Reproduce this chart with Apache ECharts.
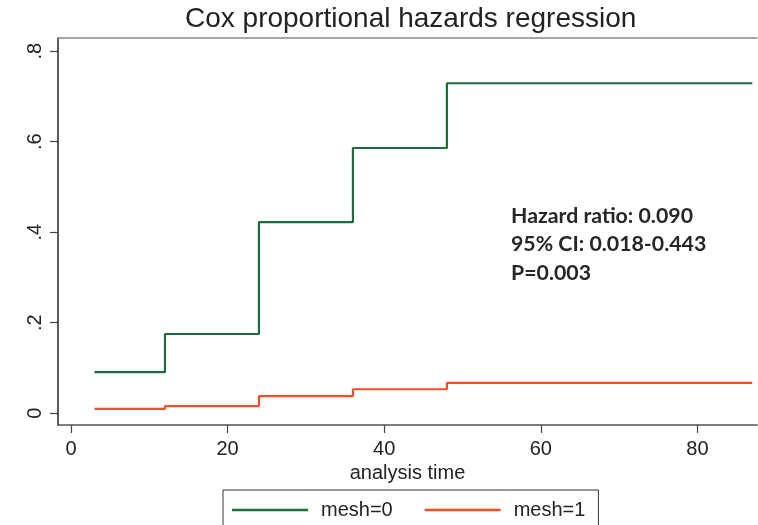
<!DOCTYPE html>
<html><head><meta charset="utf-8">
<script src="https://cdn.jsdelivr.net/npm/echarts@6/dist/echarts.min.js"></script>
<style>html,body{margin:0;padding:0;background:#fff}#c{width:758px;height:525px}</style>
</head><body><div id="c"></div>
<script>
const times = [3, 12, 24, 36, 48, 87];
const mesh0 = [0.091, 0.175, 0.422, 0.586, 0.729, 0.729];
const mesh1 = [0.0095, 0.0155, 0.038, 0.053, 0.067, 0.067];
const xTicks = [0, 20, 40, 60, 80];
const yTicks = [0, 0.2, 0.4, 0.6, 0.8];
const seriesNames = ['mesh=0', 'mesh=1'];
const titleText = 'Cox proportional hazards regression';
const xName = 'analysis time';
const noteLines = ['Hazard ratio: 0.090', '95% CI: 0.018-0.443', 'P=0.003'];

const chart = echarts.init(document.getElementById('c'), null, {renderer: 'canvas'});
const F = 'Liberation Sans, Arial, Helvetica, sans-serif';
const fmtY = v => v === 0 ? '0' : String(Math.round(v * 10) / 10).replace(/^0/, '');
chart.setOption({
  animation: false,
  backgroundColor: '#fff',
  title: {text: titleText, left: 185, top: 5, padding: 0,
    textStyle: {fontFamily: F, fontSize: 28, fontWeight: 'normal', color: '#222'}},
  grid: {left: 58, top: 38, right: 1, bottom: 100, containLabel: false},
  xAxis: [{
    type: 'value', min: -1.66, max: 87.6, position: 'bottom',
    name: xName, nameLocation: 'middle', nameGap: 32,
    nameTextStyle: {fontFamily: F, fontSize: 20, color: '#222'},
    axisLine: {onZero: false, lineStyle: {color: '#555', width: 1.5}},
    axisTick: {customValues: xTicks, length: 8, lineStyle: {color: '#444', width: 1.2}},
    axisLabel: {customValues: xTicks, margin: 14, fontFamily: F, fontSize: 20, color: '#222'},
    splitLine: {show: false}
  }, {
    type: 'value', min: -1.66, max: 87.6, position: 'top',
    axisLine: {show: true, onZero: false, lineStyle: {color: '#888', width: 1.5}},
    axisTick: {show: false}, axisLabel: {show: false}, splitLine: {show: false}
  }],
  yAxis: {
    type: 'value', min: -0.026, max: 0.829,
    axisLine: {show: true, onZero: false, lineStyle: {color: '#222', width: 1.5}},
    axisTick: {show: true, customValues: yTicks, length: 8, lineStyle: {color: '#444', width: 1.2}},
    axisLabel: {customValues: yTicks, rotate: 90, margin: 13, formatter: fmtY,
      fontFamily: F, fontSize: 20, color: '#222'},
    splitLine: {show: false}
  },
  legend: {
    data: seriesNames, left: 223, top: 490, orient: 'horizontal',
    padding: [10, 13, 20, 9], borderColor: '#333', borderWidth: 1,
    icon: 'rect', itemWidth: 76, itemHeight: 2.5, itemGap: 32,
    textStyle: {fontFamily: F, fontSize: 20, color: '#222', padding: [0, 0, 0, 8]}
  },
  series: [
    {name: seriesNames[0], type: 'line', step: 'end', showSymbol: false, symbol: 'none',
      data: times.map((t, i) => [t, mesh0[i]]),
      itemStyle: {color: '#1c6b3a'}, lineStyle: {color: '#1c6b3a', width: 2.2}},
    {name: seriesNames[1], type: 'line', step: 'end', showSymbol: false, symbol: 'none',
      data: times.map((t, i) => [t, mesh1[i]]),
      itemStyle: {color: '#f24f26'}, lineStyle: {color: '#f24f26', width: 2.2}}
  ],
  graphic: [{
    type: 'text', left: 511, top: 202,
    style: {text: noteLines.join('\n'), fontFamily: 'Lato, Carlito, Calibri, sans-serif',
      fontWeight: 'bold', fontSize: 21.3, lineHeight: 28.3, fill: '#262626'}
  }]
});
</script></body></html>
